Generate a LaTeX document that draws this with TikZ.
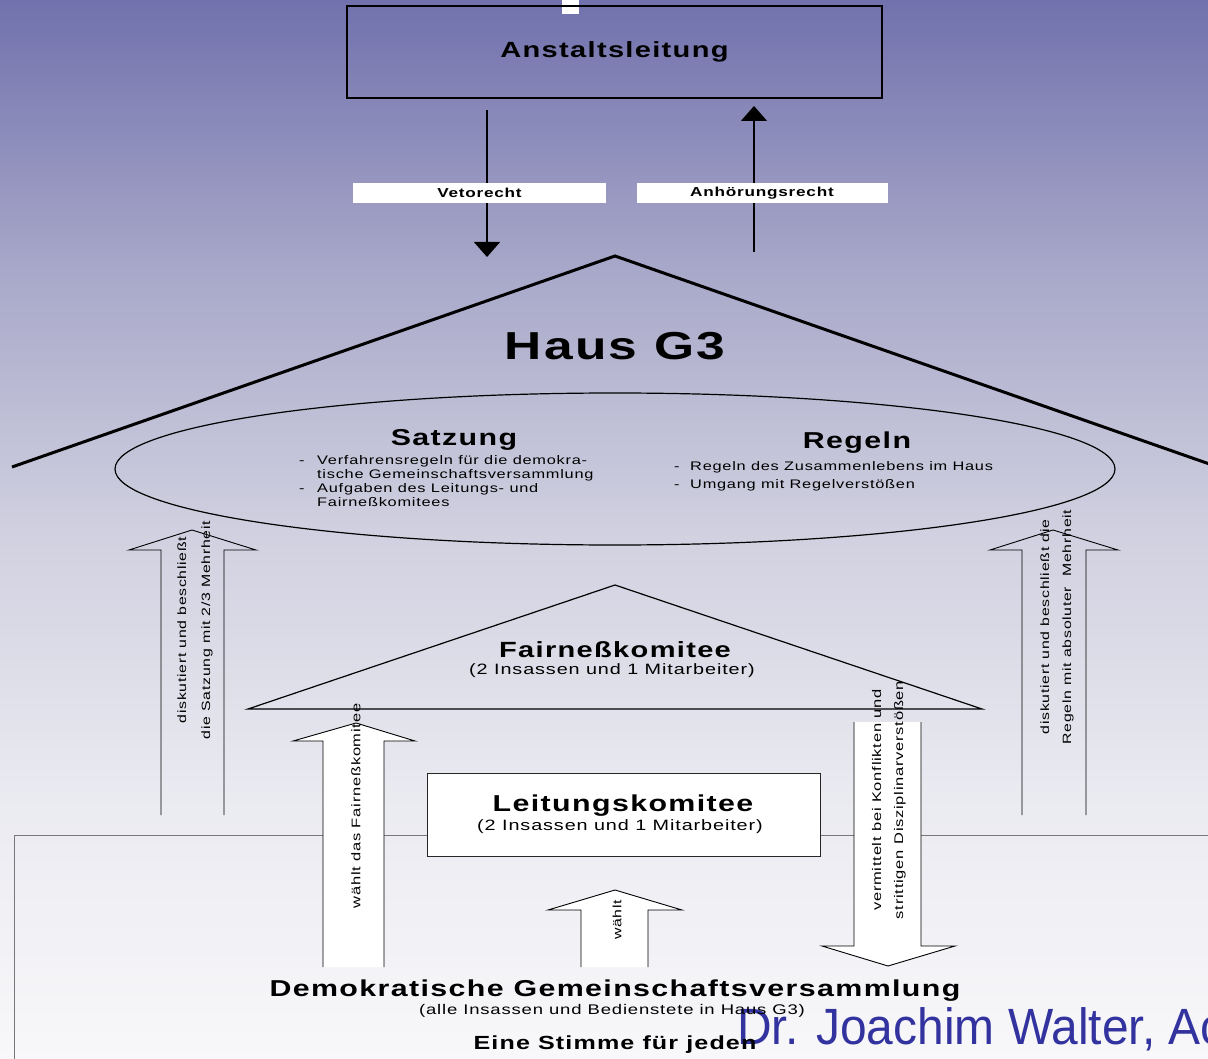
\documentclass[tikz,border=0pt]{standalone}
\usepackage{fontspec}
\setmainfont{Liberation Sans}[FakeStretch=1.32, LetterSpace=6]
\newfontfamily\walterfont{Liberation Sans}[FakeStretch=0.94]
\usetikzlibrary{arrows.meta,shapes.geometric}
\definecolor{bgA}{RGB}{113,113,173}
\definecolor{bgB}{RGB}{167,167,201}
\definecolor{bgC}{RGB}{208,208,224}
\definecolor{bgD}{RGB}{234,234,241}
\definecolor{bgE}{RGB}{248,248,250}
\definecolor{boxgray}{RGB}{120,120,120}
\definecolor{walterblue}{RGB}{51,51,160}
\newcommand{\fsz}[2]{\fontsize{#1}{#2}\selectfont}
\begin{document}
\begin{tikzpicture}[x=1pt,y=-1pt,
  txt/.style={inner sep=0pt, align=center},
  bigarrow/.style={draw=black, line width=0.9pt, line join=miter},
  labelbox/.style={fill=white, inner sep=0pt, minimum height=20pt},
  rightsarrow/.style={line width=1.3pt, -{Triangle[width=26pt,length=15pt]}},
]
\useasboundingbox (0,0) rectangle (1208,1059);
\clip (0,0) rectangle (1208,1059);
% background
\shade[top color=bgA, bottom color=bgB] (0,0) rectangle (1208,266);
\shade[top color=bgB, bottom color=bgC] (0,265) rectangle (1208,531);
\shade[top color=bgC, bottom color=bgD] (0,530) rectangle (1208,796);
\shade[top color=bgD, bottom color=bgE] (0,795) rectangle (1208,1059);

% top mark and Anstaltsleitung
\node (mark) [fill=white, minimum width=17pt, minimum height=14pt, inner sep=0pt] at (570.5,7) {};
\node (anst) [draw=black, line width=1.4pt, minimum width=535pt, minimum height=92pt, inner sep=0pt, font=\fsz{22}{26}\bfseries] at (614.5,52) {Anstaltsleitung};

% Veto / Anhoerung
\coordinate (vetoA) at (487,110);
\coordinate (vetoB) at (487,257);
\draw[rightsarrow] (vetoA) -- (vetoB);
\coordinate (anhA) at (754,252);
\coordinate (anhB) at (754,106);
\draw[rightsarrow] (anhA) -- (anhB);
\node (veto) [labelbox, minimum width=253pt, font=\fsz{13}{15}\bfseries] at (479.5,193) {Vetorecht};
\node (anh) [labelbox, minimum width=251pt, font=\fsz{13}{15}\bfseries] at (762,193) {Anhörungsrecht};

% roof
\coordinate (roofL) at (12,467);
\coordinate (roofT) at (615,256);
\coordinate (roofR) at (1218,467);
\draw[line width=3pt, line join=miter] (roofL) -- (roofT) -- (roofR);
\node (haus) [txt, font=\fsz{39}{45}\bfseries] at (615,346) {Haus G3};

% ellipse
\node (oval) [ellipse, draw=black, line width=1.2pt, minimum width=1000pt, minimum height=152pt, inner sep=0pt] at (615,469) {};
\node (satz) [txt, font=\fsz{23}{26}\bfseries] at (454,440) {Satzung};
\node (satzl) [inner sep=0pt, anchor=north west, font=\fsz{12.4}{14}] at (299,454) {\begin{tabular}{@{}p{18pt}@{}l@{}}
- & Verfahrensregeln für die demokra-\\
  & tische Gemeinschaftsversammlung\\
- & Aufgaben des Leitungs- und\\
  & Fairneßkomitees
\end{tabular}};
\node (regeln) [txt, font=\fsz{23}{26}\bfseries] at (857,443) {Regeln};
\node (regl) [inner sep=0pt, anchor=north west, font=\fsz{12.4}{18}] at (674,458) {\begin{tabular}{@{}p{16pt}@{}l@{}}
- & Regeln des Zusammenlebens im Haus\\
- & Umgang mit Regelverstößen
\end{tabular}};

% bottom box lines
\coordinate (bbTL) at (14,835);
\coordinate (bbR) at (1212,835);
\coordinate (bbB) at (14,1065);
\draw[boxgray, line width=1pt] (bbB) -- (bbTL) -- (bbR);

% left big arrow
\draw[bigarrow] (161,815) -- (161,550) -- (129,550) -- (192,530) -- (256,550) -- (224,550) -- (224,815);
\node (lefttxt) [txt, rotate=90, font=\fsz{12}{24}] at (195,630) {diskutiert und beschließt\\die Satzung mit 2/3 Mehrheit};

% right big arrow
\draw[bigarrow] (1022,815) -- (1022,550) -- (990,550) -- (1053,530) -- (1118,550) -- (1086,550) -- (1086,815);
\node (righttxt) [txt, rotate=90, font=\fsz{12}{22}] at (1057,627) {diskutiert und beschließt die\\Regeln mit absoluter\ \ Mehrheit};

% fairness triangle
\draw[line width=1.2pt, line join=miter] (248,709) -- (615,585) -- (982,709) -- cycle;
\node (fair) [txt, font=\fsz{22}{26}\bfseries] at (615,650) {Fairneßkomitee};
\node (fairsub) [txt, font=\fsz{15}{18}] at (612,671) {(2 Insassen und 1 Mitarbeiter)};

% Leitungskomitee
\node (leit) [draw=black!85, line width=1pt, fill=white, minimum width=393pt, minimum height=83pt, inner sep=0pt] at (623.5,814.5) {};
\node (leitT) [txt, font=\fsz{23}{26}\bfseries] at (623,806) {Leitungskomitee};
\node (leitS) [txt, font=\fsz{15}{18}] at (620,827) {(2 Insassen und 1 Mitarbeiter)};

% waehlt das Fairnesskomitee arrow
\filldraw[bigarrow, fill=white] (323,967) -- (323,741) -- (293,741) -- (356,723) -- (415,741) -- (384,741) -- (384,967);
\node (wdtxt) [txt, rotate=90, font=\fsz{12.5}{15}] at (356,806) {wählt das Fairneßkomitee};

% vermittelt arrow
\filldraw[bigarrow, fill=white] (854,722) -- (854,946) -- (822,946) -- (888,966) -- (955,946) -- (921,946) -- (921,722);
\node (vtxt) [txt, rotate=90, font=\fsz{12.5}{22}] at (889,800) {vermittelt bei Konflikten und\\strittigen Disziplinarverstößen};

% waehlt arrow
\filldraw[bigarrow, fill=white] (581,967) -- (581,910) -- (548,910) -- (615,890) -- (682,910) -- (648,910) -- (648,967);
\node (wtxt) [txt, rotate=90, font=\fsz{12}{15}] at (617,920) {wählt};

% footer name
\node (walter) [inner sep=0pt, anchor=base west, text=walterblue, font=\walterfont\fsz{51}{56}] at (737,1044) {Dr. Joachim Walter, Ac};

% bottom texts
\node (dgv) [txt, font=\fsz{23}{26}\bfseries] at (615,991) {Demokratische Gemeinschaftsversammlung};
\node (dgvs) [txt, font=\fsz{14}{16}] at (612,1011) {(alle Insassen und Bedienstete in Haus G3)};
\node (stimme) [txt, font=\fsz{19}{22}\bfseries] at (615,1045) {Eine Stimme für jeden};
\end{tikzpicture}
\end{document}
